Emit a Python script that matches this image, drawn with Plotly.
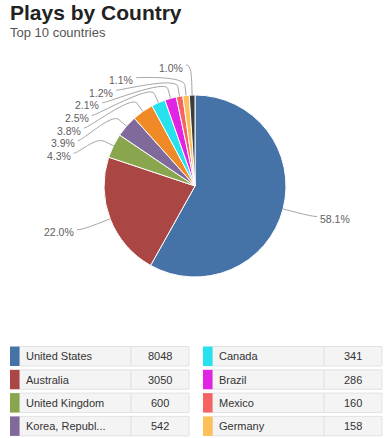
import math
import plotly.graph_objects as go

# ---------------- data ----------------
countries = ["United States", "Australia", "United Kingdom", "Korea, Republ...", "India",
             "Canada", "Brazil", "Mexico", "Germany", "France"]
plays = [8048, 3050, 600, 542, 526, 341, 286, 160, 158, 139]
colors = ["#4572A7", "#AA4643", "#89A54E", "#80699B", "#F08A26",
          "#26E2EE", "#E124E3", "#F66363", "#FDBF58", "#3D3D3D"]
title_text = "Plays by Country"
subtitle_text = "Top 10 countries"

# ---------------- layout constants (screen pixels) ----------------
OFF = 0                      # page body margin (removed via post_script)
W, H = 392 - OFF, 438 - OFF  # figure size
CX, CY, R = 195, 186, 91
DIST = 30          # label distance outside pie
BREAK = 10         # connector break outside pie
SLOT = 12.6        # min vertical spacing of labels
FONT = "Liberation Sans, Arial, sans-serif"


def px(x):
    return (x - OFF) / W


def py(y):
    return 1 - (y - OFF) / H


total = sum(plays)
fig = go.Figure()
fig.add_trace(go.Pie(
    values=plays, labels=countries, sort=False, direction="clockwise", rotation=0,
    marker=dict(colors=colors, line=dict(color="#FFFFFF", width=1)),
    textinfo="none", showlegend=False, hoverinfo="label+value+percent",
    domain=dict(x=[px(CX - R), px(CX + R)], y=[py(CY + R), py(CY - R)]),
))

# ---------------- data labels with connectors ----------------
RL = R + DIST
info = []
cum = 0
for i, v in enumerate(plays):
    th = 2 * math.pi * (cum + v / 2) / total
    cum += v
    s, c = math.sin(th), math.cos(th)
    info.append(dict(i=i, s=s, c=c,
                     nx=CX + RL * s, ny=CY - RL * c,
                     bx=CX + (R + BREAK) * s, by=CY - (R + BREAK) * c,
                     ex=CX + R * s, ey=CY - R * c,
                     left=s < 0))

shapes = []
annotations = []
for side_left in (True, False):
    pts = sorted([p for p in info if p["left"] == side_left], key=lambda p: p["ny"])
    prev = -1e9
    for k, p in enumerate(pts):
        y = max(p["ny"], prev + SLOT)
        prev = y
        if k == 0 or y == p["ny"]:
            x = p["nx"]
        else:
            dy = max(-RL, min(RL, y - CY))
            x = CX + (-1 if side_left else 1) * math.sqrt(RL * RL - dy * dy)
        sgn = -1 if side_left else 1
        sx = x + sgn * 5
        c2x = 2 * p["bx"] - p["ex"]
        c2y = 2 * p["by"] - p["ey"]
        path = (f"M {px(sx)},{py(y)} C {px(x)},{py(y)} {px(c2x)},{py(c2y)} "
                f"{px(p['bx'])},{py(p['by'])} L {px(p['ex'])},{py(p['ey'])}")
        shapes.append(dict(type="path", xref="paper", yref="paper", path=path,
                           line=dict(color="#A6A6A6", width=1)))
        pct = plays[p["i"]] / total * 100
        annotations.append(dict(
            xref="paper", yref="paper", x=px(x + sgn * 6), y=py(y + 2.5),
            xanchor="right" if side_left else "left", yanchor="middle",
            text=f"{pct:.1f}%", showarrow=False,
            font=dict(family=FONT, size=10.5, color="#606060")))

# ---------------- title ----------------
annotations.append(dict(xref="paper", yref="paper", x=px(8), y=py(12), xanchor="left",
                        yanchor="middle", text=f"<b>{title_text}</b>", showarrow=False,
                        font=dict(family=FONT, size=21, color="#222222")))
annotations.append(dict(xref="paper", yref="paper", x=px(8), y=py(32.4), xanchor="left",
                        yanchor="middle", text=subtitle_text, showarrow=False,
                        font=dict(family=FONT, size=13, color="#555555")))

# ---------------- legend table (column-major, 5 rows) ----------------
ROWS = 5
TOP0, PITCH, RH = 346.5, 23.3, 19.5
COL_X = [10, 203]
SW, NAME_W, VAL_W = 9.5, 111.5, 58
for i, (name, val, col) in enumerate(zip(countries, plays, colors)):
    cidx, r = divmod(i, ROWS)
    x0 = COL_X[cidx]
    y0 = TOP0 + r * PITCH
    y1 = y0 + RH
    xs = x0 + SW
    xn = xs + NAME_W
    xv = xn + VAL_W
    shapes.append(dict(type="rect", xref="paper", yref="paper", x0=px(xs), x1=px(xn),
                       y0=py(y1), y1=py(y0), fillcolor="#F4F4F4",
                       line=dict(color="#E2E2E2", width=1)))
    shapes.append(dict(type="rect", xref="paper", yref="paper", x0=px(xn), x1=px(xv),
                       y0=py(y1), y1=py(y0), fillcolor="#F4F4F4",
                       line=dict(color="#E2E2E2", width=1)))
    shapes.append(dict(type="rect", xref="paper", yref="paper", x0=px(x0), x1=px(xs),
                       y0=py(y1), y1=py(y0), fillcolor=col, line=dict(width=0)))
    annotations.append(dict(xref="paper", yref="paper", x=px(xs + 4), y=py((y0 + y1) / 2),
                            xanchor="left", yanchor="middle", text=name, showarrow=False,
                            font=dict(family=FONT, size=11, color="#333333")))
    annotations.append(dict(xref="paper", yref="paper", x=px((xn + xv) / 2), y=py((y0 + y1) / 2),
                            xanchor="center", yanchor="middle", text=str(val), showarrow=False,
                            font=dict(family=FONT, size=11, color="#333333")))

fig.update_layout(
    width=W, height=H, margin=dict(l=0, r=0, t=0, b=0),
    paper_bgcolor="#FFFFFF", plot_bgcolor="#FFFFFF",
    shapes=shapes, annotations=annotations, showlegend=False,
)
fig.write_html("out.html", config={"displayModeBar": False},
               post_script="document.body.style.margin='0';document.body.style.overflow='hidden';")
